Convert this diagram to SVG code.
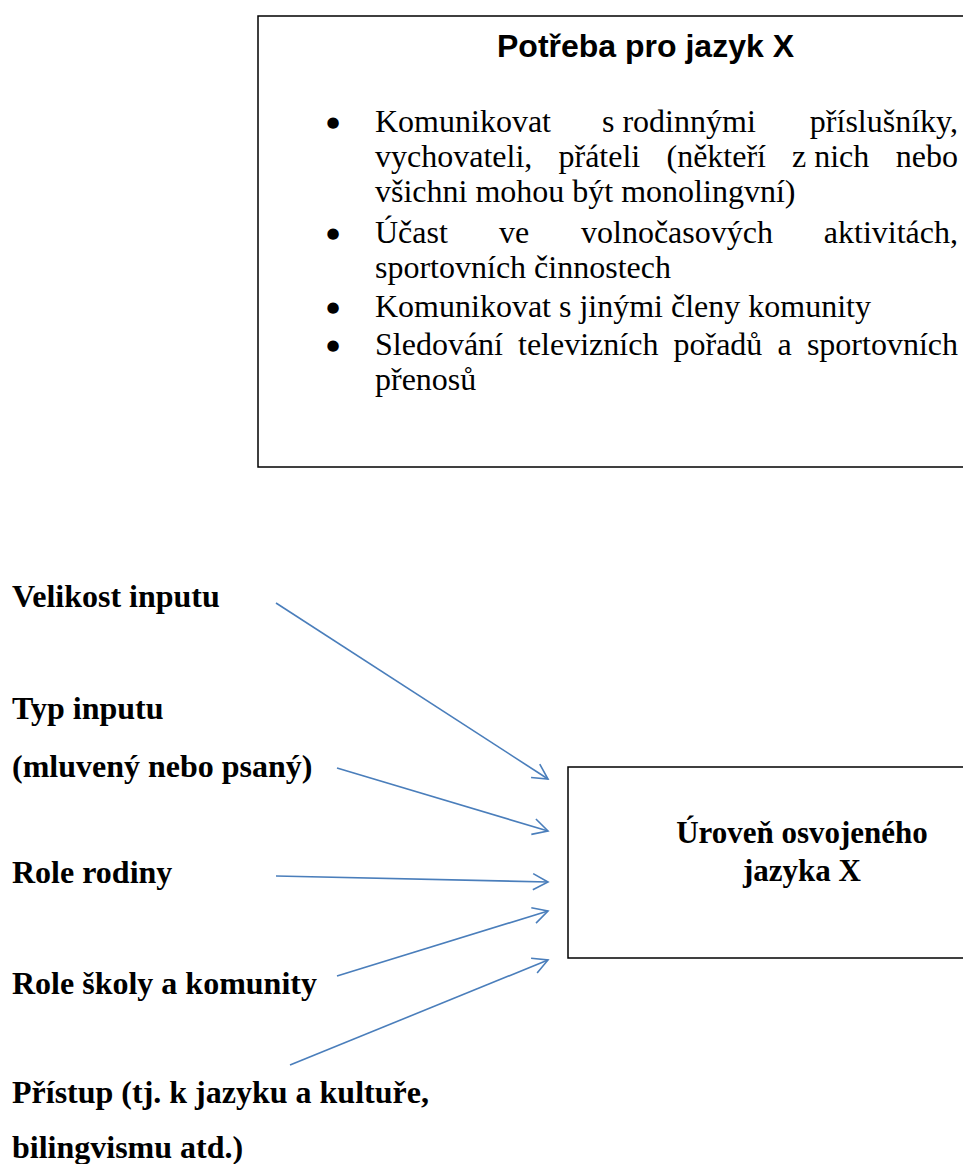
<svg xmlns="http://www.w3.org/2000/svg" width="963" height="1164" viewBox="0 0 963 1164">
<style>
.box{fill:#fff;stroke:#000;stroke-width:1.5}
.title{font-family:"Liberation Sans",Arial,sans-serif;font-weight:bold;font-size:32px;fill:#000}
.body{font-family:"Liberation Serif","Times New Roman",serif;font-size:32px;fill:#000}
.end{text-anchor:end}
.bul{font-family:"DejaVu Sans",sans-serif;font-size:15px;fill:#000;text-anchor:middle}
.lab{font-family:"Liberation Serif","Times New Roman",serif;font-weight:bold;font-size:32px;fill:#000}
.lab2{font-family:"Liberation Serif","Times New Roman",serif;font-weight:bold;font-size:31px;fill:#000;text-anchor:middle}
.conn{stroke:#4A7EBB;stroke-width:1.6;fill:none;marker-end:url(#arr)}
</style>
<defs>
<marker id="arr" markerUnits="userSpaceOnUse" markerWidth="30" markerHeight="30" refX="0" refY="0" viewBox="-20 -15 30 30" orient="auto">
<path d="M-15,-8 L0,0 L-15,8" fill="none" stroke="#4A7EBB" stroke-width="1.6"/>
</marker>
</defs>
<rect width="963" height="1164" fill="#fff"/>
<g id="need">
<rect class="box" x="258" y="16" width="730" height="451"/>
<text class="title" x="645.5" y="57" text-anchor="middle">Potřeba pro jazyk X</text>
<text class="bul" x="333" y="127">●</text>
<text class="body" y="132"><tspan x="375">Komunikovat</tspan><tspan x="602">s rodinnými</tspan></text>
<text class="body end" x="958" y="132">příslušníky,</text>
<text class="body" y="167"><tspan x="375">vychovateli,</tspan><tspan x="558.5">přáteli</tspan><tspan x="666.5">(někteří</tspan><tspan x="792">z nich</tspan></text>
<text class="body end" x="958" y="167">nebo</text>
<text class="body" x="375" y="202">všichni mohou být monolingvní)</text>
<text class="bul" x="333" y="238">●</text>
<text class="body" y="243"><tspan x="375">Účast</tspan><tspan x="499">ve</tspan><tspan x="581">volnočasových</tspan></text>
<text class="body end" x="958" y="243">aktivitách,</text>
<text class="body" x="375" y="278">sportovních činnostech</text>
<text class="bul" x="333" y="312">●</text>
<text class="body" x="375" y="317">Komunikovat s jinými členy komunity</text>
<text class="bul" x="333" y="350">●</text>
<text class="body" y="355"><tspan x="375">Sledování</tspan><tspan x="518">televizních</tspan><tspan x="673.5">pořadů</tspan><tspan x="777.5">a</tspan></text>
<text class="body end" x="958" y="355">sportovních</text>
<text class="body" x="375" y="390">přenosů</text>
</g>
<g id="level">
<rect class="box" x="568" y="767" width="420" height="191"/>
<text class="lab2" x="802" y="843">Úroveň osvojeného</text>
<text class="lab2" x="802" y="881">jazyka X</text>
</g>
<g id="f1"><text class="lab" x="12" y="607">Velikost inputu</text></g>
<g id="f2"><text class="lab" x="12" y="719">Typ inputu</text><text class="lab" x="12" y="777">(mluvený nebo psaný)</text></g>
<g id="f3"><text class="lab" x="12" y="883">Role rodiny</text></g>
<g id="f4"><text class="lab" x="12" y="994">Role školy a komunity</text></g>
<g id="f5"><text class="lab" x="12" y="1103">Přístup (tj. k jazyku a kultuře,</text><text class="lab" x="12" y="1158">bilingvismu atd.)</text></g>
<g id="connectors">
<line class="conn" x1="276" y1="603" x2="548" y2="779"/>
<line class="conn" x1="337" y1="768" x2="548" y2="831"/>
<line class="conn" x1="276" y1="876" x2="548" y2="882"/>
<line class="conn" x1="337" y1="976" x2="548" y2="911"/>
<line class="conn" x1="290" y1="1065" x2="548" y2="960"/>
</g>
</svg>
